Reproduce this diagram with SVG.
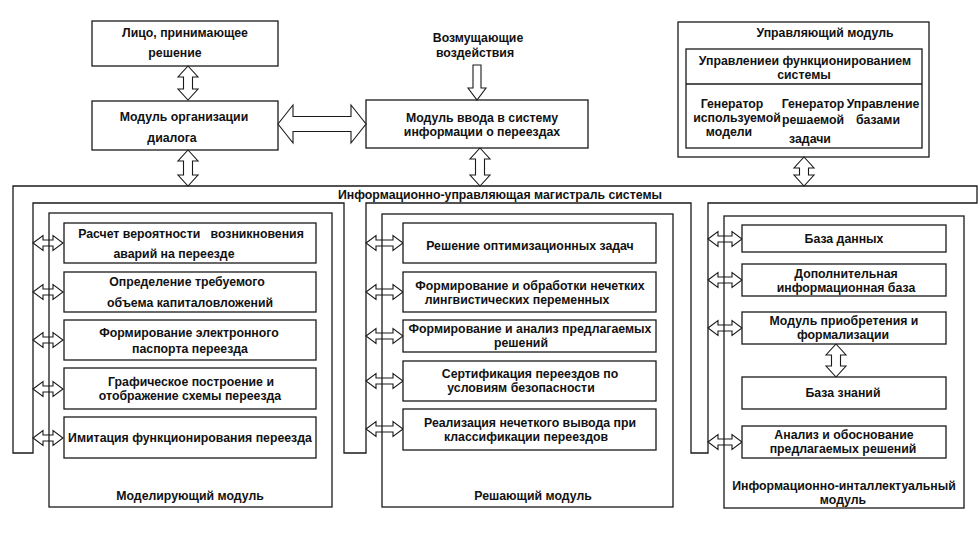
<svg xmlns="http://www.w3.org/2000/svg" width="980" height="533" viewBox="0 0 980 533">
<style>
.b{fill:#fff;stroke:#1a1a1a;stroke-width:1.3}
.c{fill:none;stroke:#1a1a1a;stroke-width:1.3}
.a{fill:#fff;stroke:#1a1a1a;stroke-width:1.1;stroke-linejoin:miter}
text{font-family:"Liberation Sans",Arial,sans-serif;font-size:12.3px;font-weight:bold;fill:#111;text-anchor:middle}
</style>
<rect width="980" height="533" fill="#fff"/>
<g id="bus">
<path class="b" d="M13,186 H977 V203 H708 V453 H691 V203 H366 V453 H344 V203 H33 V453 H13 Z"/>
<text x="500" y="199">Информационно-управляющая магистраль системы</text>
</g>
<g id="lpr"><rect class="b" x="92" y="21" width="186" height="45"/><text x="185" y="37">Лицо, принимающее</text><text x="175" y="57">решение</text></g>
<g id="dialog"><rect class="b" x="92" y="101" width="186" height="49"/><text x="184" y="121">Модуль организации</text><text x="172" y="142">диалога</text></g>
<g id="disturb"><text x="478" y="42">Возмущающие</text><text x="475" y="57">воздействия</text></g>
<g id="input"><rect class="b" x="366" y="100" width="222" height="48"/><text x="482" y="122">Модуль ввода в систему</text><text x="482" y="136">информации о переездах</text></g>
<g id="control">
<rect class="b" x="678" y="22" width="251" height="135"/>
<text x="825" y="37">Управляющий модуль</text>
<rect class="b" x="686" y="49" width="236" height="99"/>
<line class="c" x1="686" y1="84" x2="922" y2="84"/>
<text x="805" y="65">Управлениеи функционированием</text><text x="804" y="78.5">системы</text>
<text x="732" y="108">Генератор</text><text x="737" y="122">используемой</text><text x="729" y="136">модели</text>
<text x="813" y="108">Генератор</text><text x="813" y="124">решаемой</text><text x="810" y="143">задачи</text>
<text x="883" y="108">Управление</text><text x="878" y="124">базами</text>
</g>
<g id="connectors">
<polygon class="a" points="188,66 198,77 192.5,77 192.5,89 198,89 188,100 178,89 183.5,89 183.5,77 178,77"/>
<polygon class="a" points="188,150 198,161 192.5,161 192.5,175 198,175 188,186 178,175 183.5,175 183.5,161 178,161"/>
<polygon class="a" points="480,148 490,159 484.5,159 484.5,175 490,175 480,186 470,175 475.5,175 475.5,159 470,159"/>
<polygon class="a" points="804,157 814,168 808.5,168 808.5,175 814,175 804,186 794,175 799.5,175 799.5,168 794,168"/>
<polygon class="a" points="836,344 846,355 840.5,355 840.5,366 846,366 836,377 826,366 831.5,366 831.5,355 826,355"/>
<polygon class="a" points="473,65 481,65 481,88 486,88 477,100 468,88 473,88"/>
<polygon class="a" points="278,124 293,105 293,116.5 351,116.5 351,105 366,124 351,143 351,131.5 293,131.5 293,143"/>
<polygon class="a" points="33,243 43,235.5 43,240 53,240 53,235.5 63,243 53,250.5 53,246 43,246 43,250.5"/>
<polygon class="a" points="33,292 43,284.5 43,289 53,289 53,284.5 63,292 53,299.5 53,295 43,295 43,299.5"/>
<polygon class="a" points="33,340 43,332.5 43,337 53,337 53,332.5 63,340 53,347.5 53,343 43,343 43,347.5"/>
<polygon class="a" points="33,389 43,381.5 43,386 53,386 53,381.5 63,389 53,396.5 53,392 43,392 43,396.5"/>
<polygon class="a" points="33,438 43,430.5 43,435 53,435 53,430.5 63,438 53,445.5 53,441 43,441 43,445.5"/>
<polygon class="a" points="366,243 376,235.5 376,240 393,240 393,235.5 403,243 393,250.5 393,246 376,246 376,250.5"/>
<polygon class="a" points="366,292 376,284.5 376,289 393,289 393,284.5 403,292 393,299.5 393,295 376,295 376,299.5"/>
<polygon class="a" points="366,336 376,328.5 376,333 393,333 393,328.5 403,336 393,343.5 393,339 376,339 376,343.5"/>
<polygon class="a" points="366,381 376,373.5 376,378 393,378 393,373.5 403,381 393,388.5 393,384 376,384 376,388.5"/>
<polygon class="a" points="366,429 376,421.5 376,426 393,426 393,421.5 403,429 393,436.5 393,432 376,432 376,436.5"/>
<polygon class="a" points="708,239 718,231.5 718,236 732,236 732,231.5 742,239 732,246.5 732,242 718,242 718,246.5"/>
<polygon class="a" points="708,280 718,272.5 718,277 732,277 732,272.5 742,280 732,287.5 732,283 718,283 718,287.5"/>
<polygon class="a" points="708,328 718,320.5 718,325 732,325 732,320.5 742,328 732,335.5 732,331 718,331 718,335.5"/>
<polygon class="a" points="708,442 718,434.5 718,439 732,439 732,434.5 742,442 732,449.5 732,445 718,445 718,449.5"/>
</g>
<g id="modeling">
<rect class="c" x="49" y="213" width="283" height="294"/>
<text x="190" y="500">Моделирующий модуль</text>
</g>
<g id="m1"><rect class="b" x="64" y="223" width="252" height="40"/><text x="191" y="238" xml:space="preserve">Расчет вероятности   возникновения</text><text x="174" y="258">аварий на переезде</text></g>
<g id="m2"><rect class="b" x="64" y="272" width="252" height="40"/><text x="187" y="286">Определение требуемого</text><text x="190" y="307">объема капиталовложений</text></g>
<g id="m3"><rect class="b" x="64" y="320" width="252" height="40"/><text x="189" y="337">Формирование электронного</text><text x="190" y="353">паспорта переезда</text></g>
<g id="m4"><rect class="b" x="64" y="368" width="252" height="41"/><text x="191" y="386">Графическое построение и</text><text x="190" y="400">отображение схемы переезда</text></g>
<g id="m5"><rect class="b" x="64" y="417" width="252" height="41"/><text x="190" y="442">Имитация функционирования переезда</text></g>
<g id="solving">
<rect class="c" x="382" y="214" width="291" height="293"/>
<text x="533" y="500">Решающий модуль</text>
</g>
<g id="s1"><rect class="b" x="403" y="223" width="253" height="40"/><text x="530" y="250">Решение оптимизационных задач</text></g>
<g id="s2"><rect class="b" x="403" y="272" width="253" height="40"/><text x="530" y="290">Формирование и обработки нечетких</text><text x="517" y="303.5">лингвистических переменных</text></g>
<g id="s3"><rect class="b" x="403" y="320" width="253" height="32"/><text x="530" y="333">Формирование и анализ предлагаемых</text><text x="521" y="346.5">решений</text></g>
<g id="s4"><rect class="b" x="403" y="361" width="253" height="40"/><text x="530" y="378">Сертификация переездов по</text><text x="521" y="392">условиям безопасности</text></g>
<g id="s5"><rect class="b" x="403" y="409" width="253" height="41"/><text x="530" y="427">Реализация нечеткого вывода при</text><text x="526" y="441">классификации переездов</text></g>
<g id="intel">
<rect class="c" x="724" y="216" width="240" height="292"/>
<text x="844" y="490">Информационно-инталлектуальный</text><text x="843" y="503.5">модуль</text>
</g>
<g id="i1"><rect class="b" x="742" y="225" width="204" height="27"/><text x="844" y="243">База данных</text></g>
<g id="i2"><rect class="b" x="742" y="264" width="204" height="32"/><text x="846" y="278">Дополнительная</text><text x="846" y="292">информационная база</text></g>
<g id="i3"><rect class="b" x="742" y="312" width="204" height="32"/><text x="844" y="325">Модуль приобретения и</text><text x="843" y="338.5">формализации</text></g>
<g id="i4"><rect class="b" x="742" y="377" width="204" height="32"/><text x="843" y="397">База знаний</text></g>
<g id="i5"><rect class="b" x="742" y="426" width="204" height="32"/><text x="844" y="439">Анализ и обоснование</text><text x="843" y="453">предлагаемых решений</text></g>
</svg>
